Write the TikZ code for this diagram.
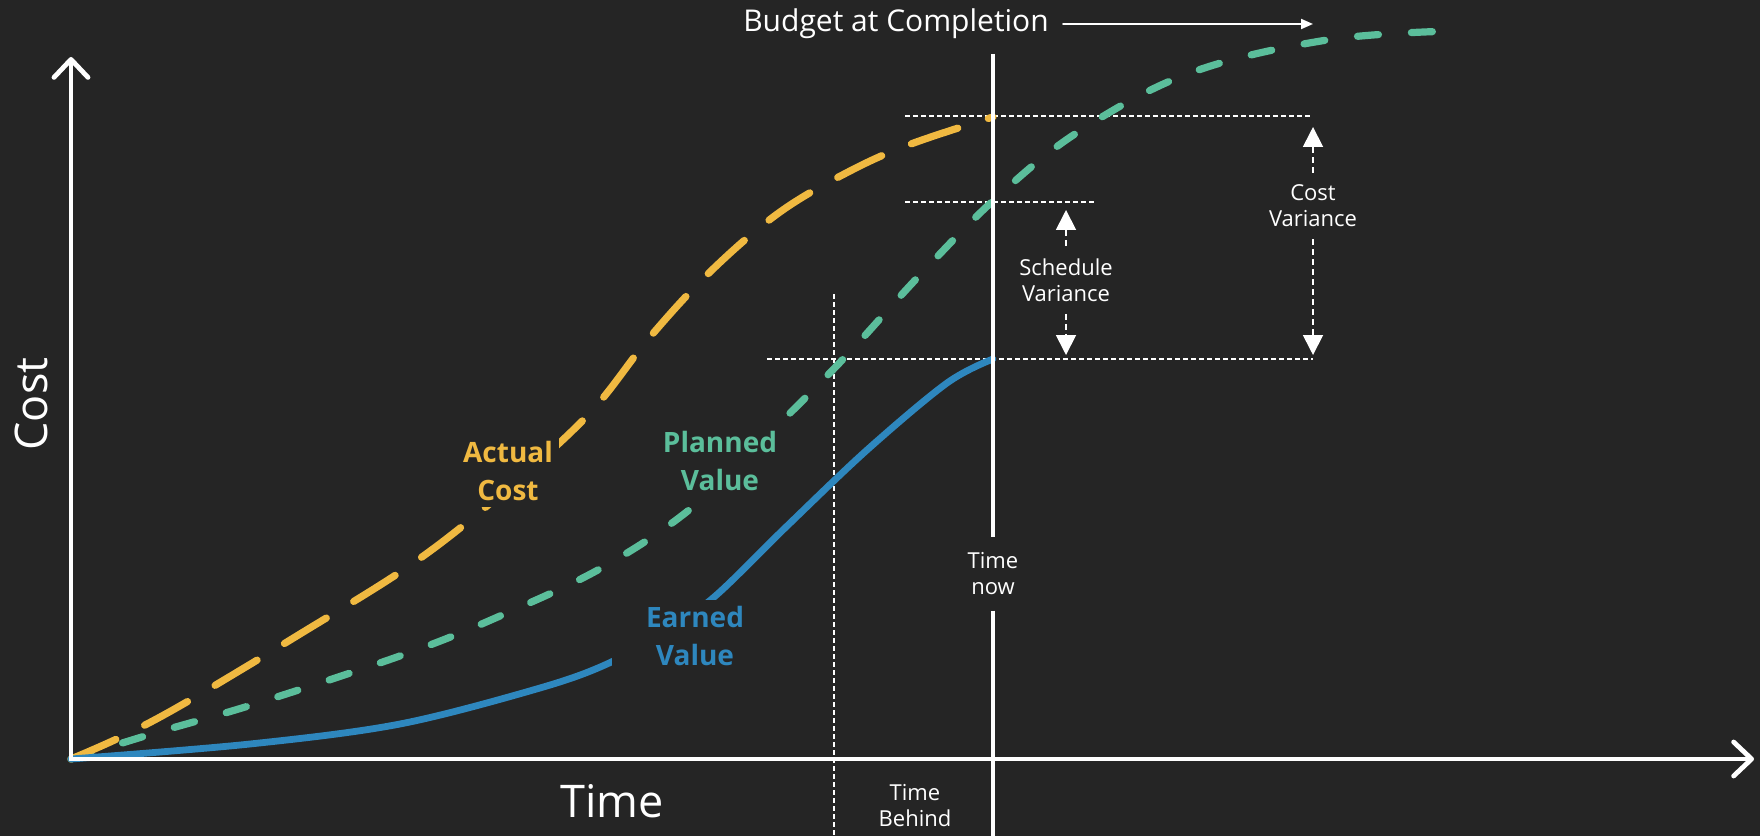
\documentclass[tikz,border=0pt]{standalone}
\usepackage{fontspec}
\setmainfont{Open Sans}
\usetikzlibrary{arrows.meta}

\definecolor{bg}{HTML}{252525}
\definecolor{acyellow}{HTML}{F0B941}
\definecolor{pvgreen}{HTML}{5BBE9B}
\definecolor{evblue}{HTML}{2E87BE}

\begin{document}
\begin{tikzpicture}[x=0.5pt, y=-0.5pt, line cap=round,
  axis/.style={white, line width=2.4pt, line join=miter, {Straight Barb[length=9pt, width=17pt, round]}-{Straight Barb[length=9pt, width=17pt, round]}},
  guide/.style={white, line width=0.9pt, line cap=butt, dash pattern=on 2.5pt off 1.5pt},
  var/.style={white, line width=0.9pt, line cap=butt, dash pattern=on 3pt off 2pt, -{Triangle[length=10pt, width=10pt]}},
  ac/.style={acyellow, line width=3.6pt, dash pattern=on 24.5pt off 16pt},
  pv/.style={pvgreen, line width=3.6pt, dash pattern=on 10.5pt off 16.5pt},
  ev/.style={evblue, line width=3.4pt},
  note/.style={text=white, align=center, inner sep=6pt, font=\fontsize{11}{13}\selectfont},
  curvename/.style={fill=bg, align=center, inner sep=3pt, font=\fontsize{14}{19}\selectfont\bfseries}]

  \fill[bg] (0,0) rectangle (1760,836);

  \coordinate (O) at (71,759);
  \coordinate (ytip) at (71,57);
  \coordinate (xtip) at (1754,759);
  \coordinate (tntop) at (993,54);
  \coordinate (tnbot) at (993,836);
  \coordinate (tbtop) at (834,294);
  \coordinate (tbbot) at (834,836);

  % dotted guides
  \coordinate (ACa) at (905,116);
  \coordinate (ACb) at (1313,116);
  \coordinate (PVa) at (905,202);
  \coordinate (PVb) at (1095,202);
  \coordinate (EVa) at (767,359);
  \coordinate (EVb) at (1313,359);
  \draw[guide] (ACa) -- (ACb);
  \draw[guide] (PVa) -- (PVb);
  \draw[guide] (EVa) -- (EVb);
  \draw[guide] (tbtop) -- (tbbot);

  % the three curves
  \draw[pv] plot[smooth, tension=0.6] coordinates {(71,759) (155,733) (258,703) (411,652) (509,612) (605,566) (694,506) (780,423) (847,355) (919,276) (995,199) (1078,132) (1190,73) (1327,40) (1452,31)};
  \draw[ac] plot[smooth, tension=0.6] coordinates {(71,759) (123,736) (185,703) (300,634) (412,564) (500,495) (588,415) (650,337) (712,270) (780,212) (850,171) (911,144) (993,117)};
  \draw[ev] plot[smooth, tension=0.55] coordinates {(71,759) (250,744) (400,724) (540,688) (607,664) (660,634) (713,598) (786,527) (867,450) (947,383) (993,359)};

  \node[curvename, text=acyellow] (AC) at (508,471) {Actual\\Cost};
  \node[curvename, text=pvgreen] (PV) at (720,461) {Planned\\Value};
  \node[curvename, text=evblue, inner xsep=17pt] (EV) at (695,636) {Earned\\Value};

  % time now
  \node[note, inner ysep=7.5pt] (now) at (993,574) {Time\\now};
  \draw[white, line width=2pt, line cap=butt] (tntop) -- (now.north);
  \draw[white, line width=2pt, line cap=butt] (now.south) -- (tnbot);
  \node[note] (behind) at (915,806) {Time\\Behind};

  % variances
  \coordinate (svtop) at (1066,210);
  \coordinate (svbot) at (1066,355);
  \node[note] (SV) at (1066,280) {Schedule\\Variance};
  \draw[var] (SV.north) -- (svtop);
  \draw[var] (SV.south) -- (svbot);

  \coordinate (cvtop) at (1313,127);
  \coordinate (cvbot) at (1313,355);
  \node[note] (CV) at (1313,206) {Cost\\Variance};
  \draw[var] (CV.north) -- (cvtop);
  \draw[var] (CV.south) -- (cvbot);

  % budget at completion
  \coordinate (bacend) at (1313,24);
  \node[text=white, font=\fontsize{15}{18}\selectfont, inner xsep=7pt] (BAC) at (896,24) {Budget at Completion};
  \draw[white, line width=1pt, -{Triangle[length=6pt, width=5pt]}] (BAC.east) -- (bacend);

  % axes
  \draw[axis] (ytip) -- (O) -- (xtip);
  \node[white, rotate=90, font=\fontsize{22.5}{27}\selectfont] (costaxis) at (31,404) {Cost};
  \node[white, font=\fontsize{22.5}{27}\selectfont] (timeaxis) at (612,801) {Time};
\end{tikzpicture}
\end{document}
